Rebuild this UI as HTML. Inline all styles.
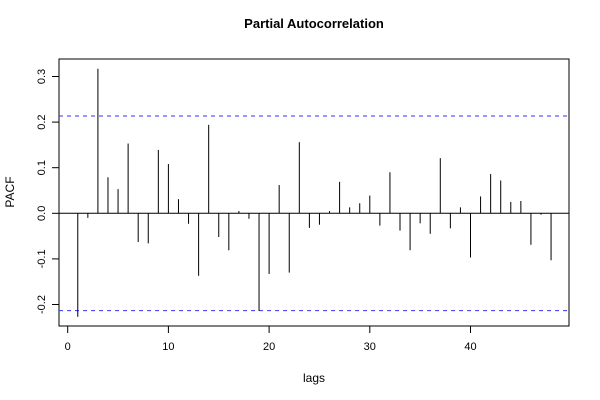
<!DOCTYPE html>
<html><head><meta charset="utf-8"><style>
body{margin:0;background:#fff;}
svg{display:block;font-family:"Liberation Sans",sans-serif;}
</style></head><body>
<svg id="chart" width="600" height="400" viewBox="0 0 600 400">
<text x="314" y="28" text-anchor="middle" font-size="13" font-weight="bold">Partial Autocorrelation</text>
<text x="314" y="382" text-anchor="middle" font-size="12">lags</text>
<text transform="translate(14,192) rotate(-90)" text-anchor="middle" font-size="12">PACF</text>
<rect x="59" y="59" width="510" height="267" fill="none" stroke="#000" stroke-width="1"/>
<g id="marks"></g>
</svg>
<script>
const lags = [1,2,3,4,5,6,7,8,9,10,11,12,13,14,15,16,17,18,19,20,21,22,23,24,25,26,27,28,29,30,31,32,33,34,35,36,37,38,39,40,41,42,43,44,45,46,47,48];
const pacfValues = [-0.227,-0.010,0.317,0.079,0.053,0.153,-0.063,-0.066,0.139,0.108,0.031,-0.023,-0.137,0.194,-0.052,-0.081,0.005,-0.012,-0.214,-0.133,0.062,-0.130,0.156,-0.032,-0.025,0.005,0.069,0.013,0.022,0.039,-0.027,0.090,-0.038,-0.081,-0.022,-0.045,0.121,-0.033,0.013,-0.097,0.037,0.086,0.072,0.025,0.027,-0.069,-0.003,-0.103];
const confLimit = [0.2135];
const xTicks = [0,10,20,30,40];
const yTicks = [-0.2,-0.1,0.0,0.1,0.2,0.3];
const yTickLabels = ["-0.2","-0.1","0.0","0.1","0.2","0.3"];

const NS="http://www.w3.org/2000/svg";
const g=document.getElementById('marks');
function xs(v){return 67.7+v*10.07;}
function ys(v){return 213.3-v*456;}
function mk(tag,attrs){const e=document.createElementNS(NS,tag);for(const k in attrs)e.setAttribute(k,attrs[k]);g.appendChild(e);return e;}

// zero line
let z=mk('line',{x1:59,x2:569,y1:ys(0),y2:ys(0),stroke:'#000','stroke-width':1});



// confidence lines
[confLimit[0],-confLimit[0]].forEach((c,i)=>{
  const l=mk('line',{x1:59,x2:569,y1:ys(c),y2:ys(c),stroke:'#3333ff','stroke-width':1,'stroke-dasharray':'4,4'});
  
  
});

// bars
lags.forEach((lag,i)=>{
  const b=mk('line',{x1:xs(lag),x2:xs(lag),y1:ys(0),y2:ys(pacfValues[i]),stroke:'#000','stroke-width':1});
  
  
});

// x ticks
xTicks.forEach(t=>{
  const l=mk('line',{x1:xs(t),x2:xs(t),y1:326,y2:333,stroke:'#000'});
  
  
  const tx=mk('text',{x:xs(t),y:350,'text-anchor':'middle','font-size':'11'});
  tx.textContent=t;
  
  
});

// y ticks
yTicks.forEach((t,i)=>{
  const l=mk('line',{x1:52,x2:59,y1:ys(t),y2:ys(t),stroke:'#000'});
  
  
  const tx=mk('text',{transform:'translate(45,'+ys(t)+') rotate(-90)','text-anchor':'middle','font-size':'11'});
  tx.textContent=yTickLabels[i];
  
  
});
</script>
</body></html>
